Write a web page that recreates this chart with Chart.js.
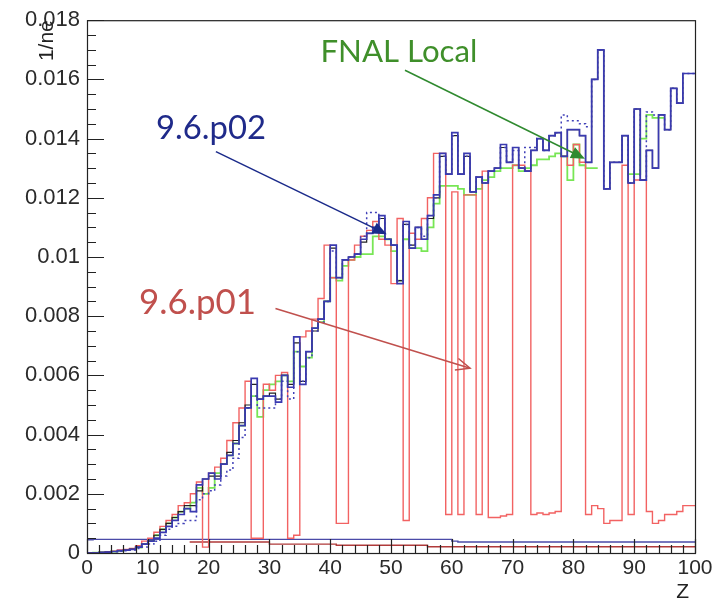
<!DOCTYPE html>
<html><head><meta charset="utf-8">
<script src="https://cdn.jsdelivr.net/npm/chart.js@4/dist/chart.umd.min.js"></script>
<style>html,body{margin:0;padding:0;background:#fff}#wrap{width:723px;height:600px}</style>
</head><body><div id="wrap"><canvas id="c" width="723" height="600"></canvas></div>
<script>
// ---- data ----
const binEdges = [0,1,2,3,4,5,6,7,8,9,10,11,12,13,14,15,16,17,18,19,20,21,22,23,24,25,26,27,28,29,30,31,32,33,34,35,36,37,38,39,40,41,42,43,44,45,46,47,48,49,50,51,52,53,54,55,56,57,58,59,60,61,62,63,64,65,66,67,68,69,70,71,72,73,74,75,76,77,78,79,80,81,82,83,84,85,86,87,88,89,90,91,92,93,94,95,96,97,98,99,100];
const xTickLabels = [0,10,20,30,40,50,60,70,80,90,100];
const yTickLabels = [0,0.002,0.004,0.006,0.008,0.01,0.012,0.014,0.016,0.018];

const p02 = [0,0,0,0.00002,0.00003,0.00005,0.00008,0.0001,0.00012,0.0002,
0.0003,0.0004,0.0005,0.0007,0.0009,0.0011,0.0013,0.0015,0.0014,0.0023,
0.0025,0.0027,0.0025,0.003,0.0033,0.0037,0.0043,0.0049,0.0059,0.0052,
0.0053,0.0053,0.0051,0.006,0.0056,0.0073,0.0057,0.0068,0.0076,0.0079,
0.0085,0.0104,0.0093,0.0099,0.01,0.0101,0.0106,0.0108,0.011,0.0114,
0.0106,0.0104,0.0091,0.0112,0.0103,0.011,0.0106,0.0114,0.0121,0.0135,
0.0128,0.0142,0.0128,0.0135,0.0122,0.0127,0.0125,0.0129,0.013,0.0138,
0.0132,0.0137,0.013,0.0129,0.0136,0.014,0.0136,0.0141,0.0142,0.0134,
0.0143,0.0143,0.0141,0.0132,0.016,0.017,0.0123,0.0132,0.0132,0.0141,
0.0125,0.015,0.0126,0.0136,0.013,0.0148,0.0143,0.0157,0.0152,0.0162];

const p02dotted = [0,0,0,0,0.00002,0.00004,0.00006,0.00008,0.0001,0.00015,
0.0002,0.0003,0.0004,0.0006,0.0008,0.0009,0.001,0.0011,0.0011,0.0018,
0.002,0.0021,0.0023,0.0026,0.0028,0.0032,0.0039,0.0049,0.0053,0.0049,
0.0049,0.0049,0.0052,0.0058,0.0052,0.0068,0.0058,0.0066,0.0075,0.0078,
0.0085,0.0102,0.0093,0.0099,0.01,0.0101,0.0107,0.0115,0.0115,0.0113,
0.0106,0.0104,0.0092,0.0111,0.0104,0.011,0.0107,0.0114,0.012,0.0134,
0.0128,0.0141,0.0128,0.0134,0.0122,0.0127,0.0125,0.0129,0.013,0.0137,
0.0132,0.0136,0.013,0.0137,0.0137,0.014,0.0136,0.0141,0.0142,0.0148,
0.0146,0.0146,0.0145,0.0144,0.016,0.017,0.0123,0.0132,0.0132,0.0141,
0.0125,0.015,0.0126,0.0149,0.0148,0.0148,0.0143,0.0157,0.0152,0.0162];

const blackRef = [0,0,0,0.00002,0.00003,0.00005,0.00008,0.0001,0.00013,0.0002,
0.0003,0.0004,0.0006,0.0008,0.001,0.0012,0.0014,0.0016,0.0016,0.0021,
0.0025,0.0026,0.0026,0.003,0.0034,0.0038,0.0044,0.005,0.0057,0.0052,
0.0053,0.0054,0.0052,0.006,0.0057,0.0071,0.0058,0.0068,0.0075,0.0079,
0.0085,0.0103,0.0093,0.0099,0.01,0.0101,0.0105,0.0108,0.011,0.0113,
0.0106,0.0104,0.0092,0.0111,0.0104,0.011,0.0106,0.0113,0.012,0.0134,
0.0128,0.0141,0.0128,0.0134,0.0122,0.0127,0.0125,0.0129,0.013,0.0137,
0.0132,0.0137,0.013,0.0129,0.0136,0.014,0.0136,0.0141,0.0142,0.0134,
0.0143,0.0143,0.0141,0.0132,0.016,0.017,0.0123,0.0132,0.0132,0.0141,
0.0125,0.015,0.0126,0.0136,0.013,0.0148,0.0143,0.0157,0.0152,0.0162];

const p01 = [0,0,0,0.00002,0.00004,0.00006,0.0001,0.00012,0.00015,0.00025,
0.0004,0.0005,0.0007,0.0009,0.0011,0.0013,0.0016,0.0017,0.002,0.0024,
0.0002,0.0027,0.0029,0.0032,0.0038,0.0044,0.0049,0.0058,0.0005,0.0005,
0.0057,0.0055,0.006,0.0061,0.0005,0.0006,0.0073,0.0075,0.0079,0.0086,
0.0104,0.0093,0.001,0.001,0.0099,0.0104,0.0107,0.0109,0.0112,0.0106,
0.0104,0.0091,0.0113,0.0011,0.0108,0.0106,0.0113,0.012,0.0135,0.0135,
0.0013,0.0122,0.0013,0.0121,0.0121,0.0013,0.0129,0.0012,0.0012,0.00125,
0.0013,0.0131,0.0131,0.0129,0.0013,0.00135,0.0013,0.00135,0.0014,0.0134,
0.0131,0.0138,0.0132,0.0013,0.0016,0.0015,0.001,0.0011,0.0011,0.0131,
0.0013,0.0126,0.0126,0.0014,0.001,0.0011,0.0013,0.0013,0.0014,0.0016];

const fnalLocal = [0,0,0.00001,0.00002,0.00003,0.00005,0.00007,0.0001,0.00013,0.00018,
0.0003,0.0004,0.0006,0.0008,0.001,0.0012,0.0014,0.0015,0.0017,0.0022,
0.002,0.0022,0.0027,0.003,0.0033,0.0037,0.0043,0.0049,0.0053,0.0046,
0.0055,0.0057,0.0058,0.006,0.0058,0.0068,0.0063,0.0066,0.0076,0.0078,
0.0085,0.0093,0.0092,0.0097,0.0099,0.01,0.0101,0.0101,0.0107,0.0107,
0.0106,0.0102,0.0092,0.0106,0.0103,0.0103,0.0102,0.011,0.0118,0.0124,
0.0124,0.0124,0.0123,0.0121,0.0121,0.0123,0.0126,0.0127,0.0129,0.013,
0.013,0.0131,0.0129,0.013,0.0131,0.0133,0.0133,0.0134,0.0135,0.0134,
0.0126,0.0138,0.0131,0.013,null,null,null,null,null,0.0129,
0.0128,0.0128,0.014,0.0148,0.0147,null,null,null,null,null];

const flatBlueZ = [0,1,60,61,62,100];
const flatBlueV = [0.0005,0.00045,0.00046,0.0004,0.00037,0.00037];
const flatRedZ = [17,30,41,56,62,100];
const flatRedV = [0.0004,0.00037,0.0003,0.00026,0.00021,0.00021];

// ---- helpers ----
function hist(vals){
  const pts=[];
  for(let i=0;i<vals.length;i++){
    pts.push({x:binEdges[i],y:vals[i]});
    if(vals[i]!==null && (i===vals.length-1 || vals[i+1]===null)) pts.push({x:binEdges[i+1],y:vals[i]});
  }
  return pts;
}
function steps(zs,vs){return zs.map((z,i)=>({x:z,y:vs[i]}));}

const C_BLUE='#3a3ab0', C_RED='#f26262', C_GREEN='#78e655';

const annotations = [
  {text:'FNAL Local', color:'#3f8f2a', z:38.4, v:0.01658, w:157},
  {text:'9.6.p02', color:'#1f2a8a', z:11.36, v:0.01399, w:110},
  {text:'9.6.p01', color:'#c0504d', z:8.57, v:0.00809, w:117}
];
const arrows = [
  {z1:52.3, v1:0.01631, z2:81.9, v2:0.01332, color:'#2f8a2f', filled:true},
  {z1:21.2, v1:0.01356, z2:49.3, v2:0.01077, color:'#1a2a8a', filled:true},
  {z1:31.0, v1:0.00826, z2:63.0, v2:0.00624, color:'#c0504d', filled:false}
];

function drawArrow(ctx,x1,y1,x2,y2,color,filled){
  const a=Math.atan2(y2-y1,x2-x1), L=14, H=6;
  ctx.save(); ctx.strokeStyle=color; ctx.fillStyle=color; ctx.lineWidth=1.5;
  ctx.beginPath(); ctx.moveTo(x1,y1);
  ctx.lineTo(filled? x2-L*0.8*Math.cos(a) : x2, filled? y2-L*0.8*Math.sin(a) : y2); ctx.stroke();
  const bx=x2-L*Math.cos(a), by=y2-L*Math.sin(a);
  const px=-Math.sin(a)*H, py=Math.cos(a)*H;
  ctx.beginPath(); ctx.moveTo(bx+px,by+py); ctx.lineTo(x2,y2); ctx.lineTo(bx-px,by-py);
  if(filled){ctx.closePath(); ctx.fill();} else ctx.stroke();
  ctx.restore();
}

const decor = {
  id:'decor',
  afterDatasetsDraw(chart){
    const ctx=chart.ctx, ca=chart.chartArea, xs=chart.scales.x, ys=chart.scales.y;
    ctx.save();
    ctx.strokeStyle='#222'; ctx.lineWidth=1.2;
    ctx.strokeRect(ca.left+0.5, ca.top+0.5, ca.right-ca.left, ca.bottom-ca.top);
    ctx.beginPath();
    for(let k=0;k<=36;k++){ const v=k*0.0005; const y=Math.round(ys.getPixelForValue(v))+0.5; const len=(k%4===0)?17:9; ctx.moveTo(ca.left,y); ctx.lineTo(ca.left+len,y);}
    for(let k=0;k<=50;k++){ const z=k*2; const x=Math.round(xs.getPixelForValue(z))+0.5; const len=(k%5===0)?14:8; ctx.moveTo(x,ca.bottom); ctx.lineTo(x,ca.bottom-len);}
    ctx.stroke();
    // axis titles
    ctx.fillStyle='#222'; ctx.font='21px "Liberation Sans", Arial, sans-serif';
    ctx.textAlign='right'; ctx.textBaseline='alphabetic';
    ctx.fillText('Z', ca.right-6, 598);
    ctx.save(); ctx.translate(53, ca.top); ctx.rotate(-Math.PI/2); ctx.fillText('1/ne',0,0); ctx.restore();
    // annotations
    ctx.textAlign='left';
    annotations.forEach(a=>{
      ctx.font='30px Lato, "Open Sans", sans-serif';
      const m=ctx.measureText(a.text).width; const s=30*a.w/m;
      ctx.font=s.toFixed(1)+'px Lato, "Open Sans", sans-serif';
      ctx.fillStyle=a.color; ctx.fillText(a.text, xs.getPixelForValue(a.z), ys.getPixelForValue(a.v));
    });
    arrows.forEach(r=>drawArrow(ctx,xs.getPixelForValue(r.z1),ys.getPixelForValue(r.v1),xs.getPixelForValue(r.z2),ys.getPixelForValue(r.v2),r.color,r.filled));
    ctx.restore();
  }
};

const ds=(label,data,color,width,order,extra)=>Object.assign({label,data,borderColor:color,borderWidth:width,stepped:'after',pointRadius:0,fill:false,order,spanGaps:false},extra||{});

new Chart(document.getElementById('c'),{
  type:'line',
  data:{datasets:[
    ds('9.6.p02',hist(p02),C_BLUE,1.7,0),
    ds('9.6.p02 (dotted)',hist(p02dotted),'#4040b8',1.5,1,{borderDash:[2,3]}),
    ds('reference',hist(blackRef),'#222',1.2,2),
    ds('9.6.p01',hist(p01),C_RED,1.4,3),
    ds('FNAL Local',hist(fnalLocal),C_GREEN,1.8,4),
    ds('flat blue',steps(flatBlueZ,flatBlueV),'#4a4aa8',1.4,5),
    ds('flat red',steps(flatRedZ,flatRedV),'#b03a3a',1.4,6)
  ]},
  options:{
    responsive:false, animation:false, devicePixelRatio:1,
    layout:{padding:{top:17,right:28,left:0,bottom:0}},
    plugins:{legend:{display:false},tooltip:{enabled:false}},
    elements:{point:{radius:0},line:{tension:0}},
    scales:{
      x:{type:'linear',min:0,max:100,
        afterFit(s){s.height=47;},
        afterBuildTicks(s){s.ticks=xTickLabels.map(v=>({value:v}));},
        grid:{display:false,drawTicks:false}, border:{display:false},
        ticks:{padding:3,autoSkip:false,maxRotation:0,color:'#2a2a2a',font:{family:'"Liberation Sans", Arial, sans-serif',size:21},callback:(v)=>String(v)}},
      y:{type:'linear',min:0,max:0.018,
        afterFit(s){s.width=87;},
        afterBuildTicks(s){s.ticks=yTickLabels.map(v=>({value:v}));},
        grid:{display:false,drawTicks:false}, border:{display:false},
        ticks:{padding:7,color:'#2a2a2a',font:{family:'"Liberation Sans", Arial, sans-serif',size:22},callback:(v)=>String(+(+v).toFixed(4))}}
    }
  },
  plugins:[decor]
});
</script></body></html>
